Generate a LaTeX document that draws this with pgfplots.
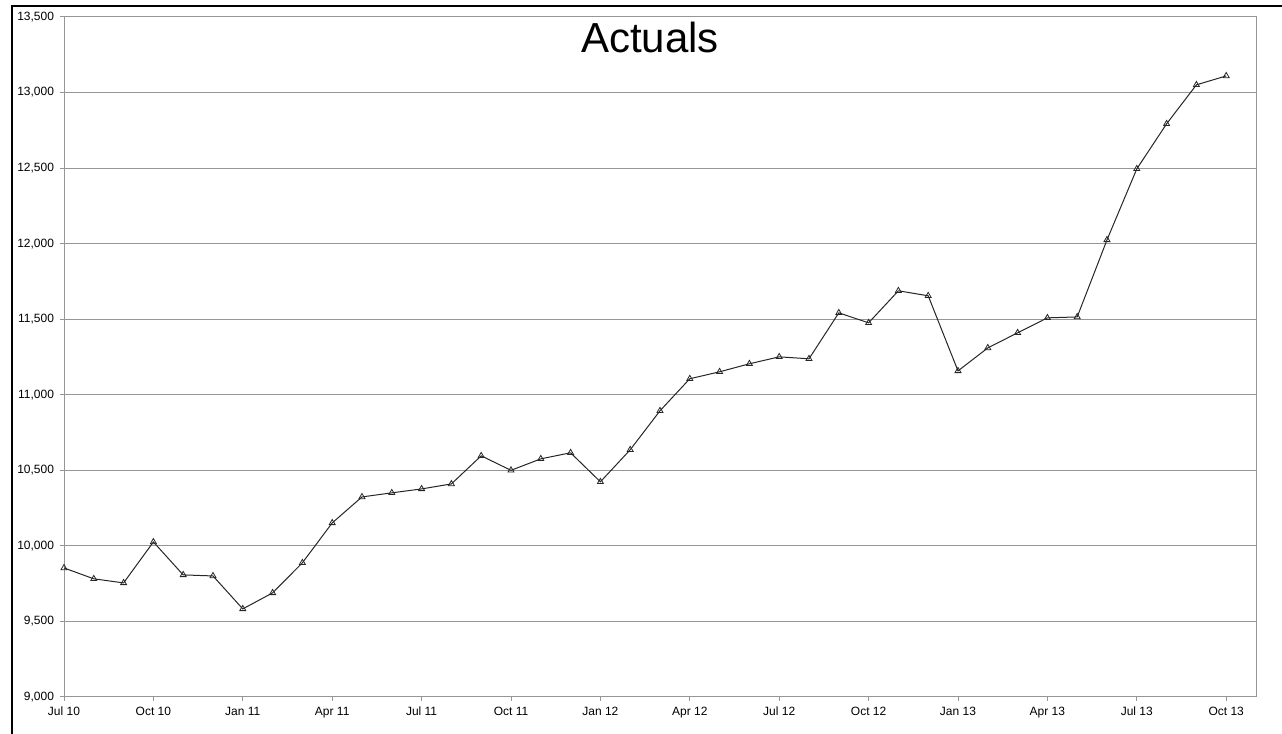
\documentclass[border=0pt]{standalone}
\usepackage{pgfplots}
\pgfplotsset{compat=1.18}
\usepackage{fontspec}
\setmainfont{Liberation Sans}
\definecolor{gridgray}{RGB}{150,150,150}

\pgfplotstableread{
idx value
0 9854
1 9782
2 9755
3 10026
4 9808
5 9801
6 9583
7 9689
8 9888
9 10152
10 10324
11 10351
12 10377
13 10410
14 10596
15 10500
16 10576
17 10616
18 10424
19 10636
20 10894
21 11106
22 11152
23 11205
24 11251
25 11238
26 11542
27 11476
28 11688
29 11655
30 11158
31 11310
32 11410
33 11509
34 11515
35 12025
36 12495
37 12793
38 13051
39 13110
}\actuals

\begin{document}
\begin{tikzpicture}
\useasboundingbox (0,0) rectangle (961.5pt,550.5pt);
\draw[black, line width=2.2pt] (9pt,0) -- (9pt,546pt) -- (961.5pt,546pt);
\begin{axis}[
    at={(48pt,27.75pt)}, anchor=south west,
    width=894pt, height=510pt, scale only axis,
    xmin=0, xmax=40, ymin=9000, ymax=13500,
    xtick={0,3,...,39},
    xticklabels={Jul 10,Oct 10,Jan 11,Apr 11,Jul 11,Oct 11,Jan 12,Apr 12,Jul 12,Oct 12,Jan 13,Apr 13,Jul 13,Oct 13},
    ytick={9000,9500,...,13500},
    scaled y ticks=false,
    /pgf/number format/.cd, 1000 sep={,}, assume math mode=true, /pgfplots/.cd,
    ymajorgrids, grid style={gridgray, line width=0.75pt},
    axis line style={gridgray, line width=0.75pt},
    tick style={gridgray, line width=0.75pt},
    tick align=outside, major tick length=3pt,
    xtick pos=bottom, ytick pos=left,
    tick label style={font=\fontsize{9}{10}\selectfont, black},
    yticklabel style={xshift=-1pt},
    xticklabel style={yshift=-1pt},
    clip=false,
]
\addplot[black!85, line width=0.75pt, mark=triangle, mark size=2.6pt,
    mark options={fill=white, line width=0.6pt}] table[x=idx, y=value] {\actuals};
\end{axis}
\node[font=\fontsize{31.5}{34}\selectfont] at (487.5pt,522pt) {Actuals};
\end{tikzpicture}
\end{document}
